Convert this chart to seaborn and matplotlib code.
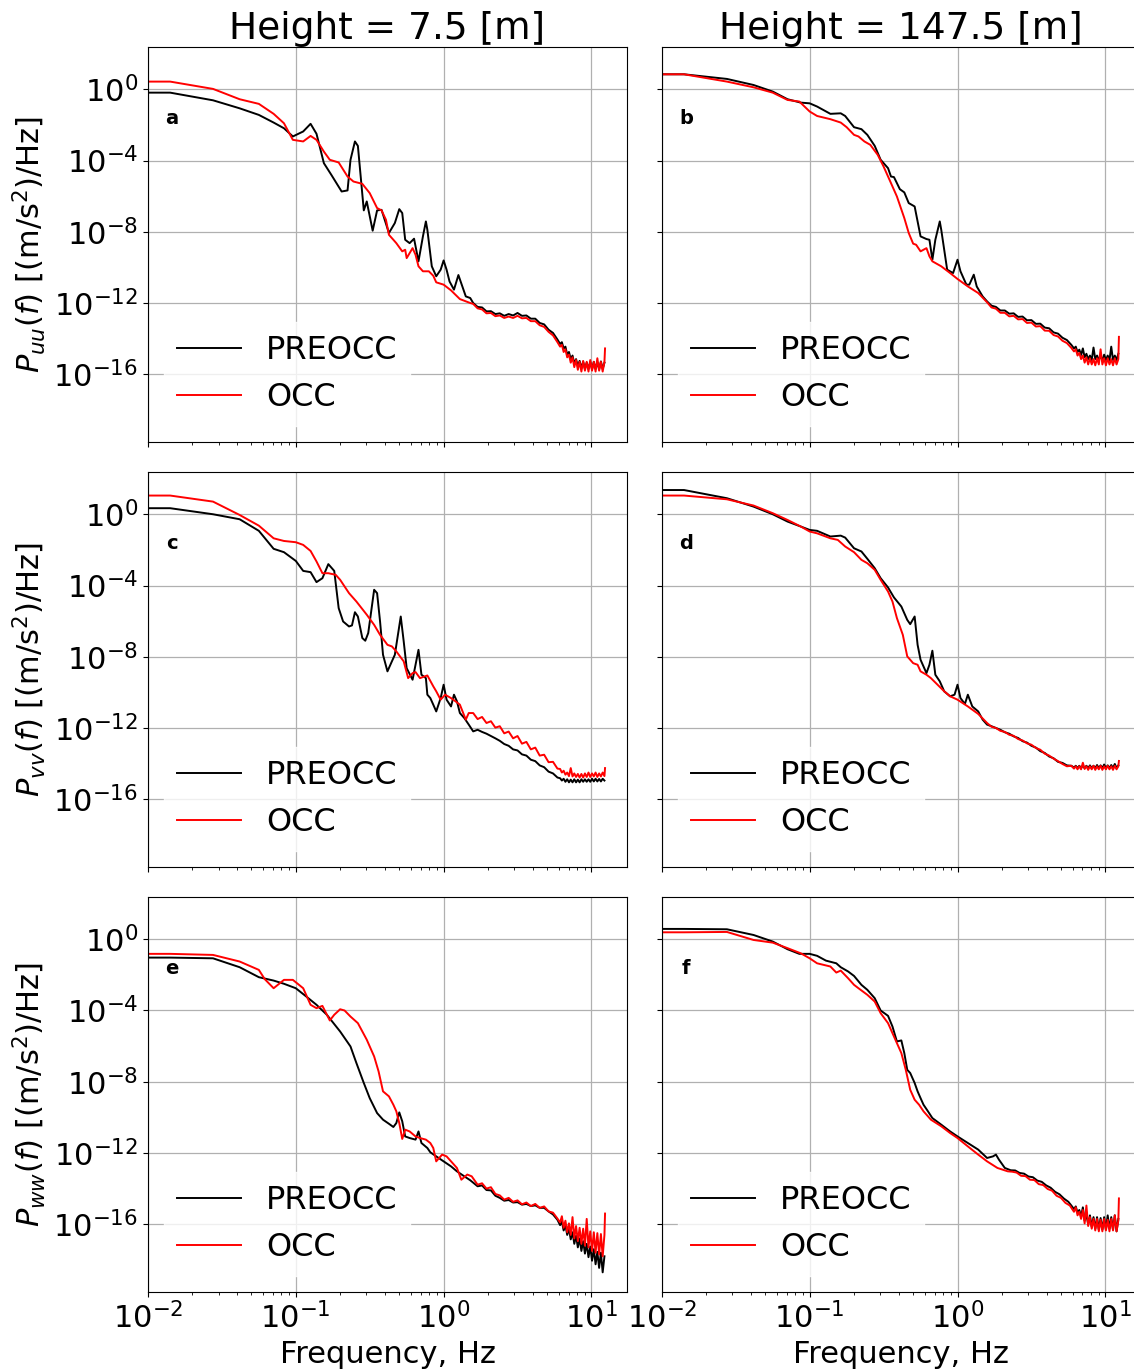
import pandas as pd
import matplotlib
matplotlib.use("Agg")
import matplotlib.pyplot as plt
import seaborn as sns
from matplotlib.ticker import NullLocator

# spectra, stored as (log10 frequency [Hz], log10 PSD)
a_pre = [(-2.00, -0.19), (-1.85, -0.19), (-1.56, -0.62), (-1.38, -1.07), (-1.25, -1.44), (-1.15, -1.87),
         (-1.08, -2.19), (-1.02, -2.65), (-0.95, -2.37), (-0.90, -1.94), (-0.86, -2.50), (-0.81, -4.15),
         (-0.76, -4.80), (-0.69, -5.74), (-0.65, -5.68), (-0.63, -3.96), (-0.60, -2.93), (-0.58, -3.18),
         (-0.54, -6.80), (-0.52, -6.30), (-0.48, -7.94), (-0.45, -6.80), (-0.42, -6.77), (-0.37, -8.07),
         (-0.33, -7.51), (-0.30, -6.73), (-0.28, -6.95), (-0.26, -8.45), (-0.23, -8.64), (-0.20, -8.39),
         (-0.17, -9.66), (-0.14, -8.26), (-0.12, -7.42), (-0.11, -7.89), (-0.08, -9.94), (-0.05, -10.50),
         (-0.02, -10.13), (0.00, -9.61), (0.02, -10.13), (0.04, -10.79), (0.07, -11.25), (0.10, -10.43),
         (0.15, -11.63), (0.18, -11.72), (0.20, -12.00), (0.23, -12.22), (0.26, -12.25), (0.29, -12.47),
         (0.32, -12.46), (0.35, -12.62), (0.38, -12.58), (0.41, -12.72), (0.44, -12.62), (0.47, -12.70),
         (0.50, -12.56), (0.53, -12.72), (0.56, -12.70), (0.59, -12.88), (0.62, -12.88), (0.65, -13.12),
         (0.68, -13.20), (0.71, -13.50), (0.74, -13.68), (0.77, -14.05), (0.788, -14.30), (0.80, -14.20),
         (0.812, -14.55), (0.824, -14.45), (0.836, -14.90), (0.848, -14.75), (0.86, -15.15), (0.872, -14.95),
         (0.884, -15.40), (0.896, -15.15), (0.908, -15.55), (0.92, -15.25), (0.932, -15.65), (0.944, -15.30),
         (0.956, -15.70), (0.968, -15.35), (0.98, -15.70), (0.992, -15.30), (1.004, -15.72), (1.016, -15.30),
         (1.028, -15.70), (1.04, -15.32), (1.052, -15.72), (1.064, -15.28), (1.076, -15.70), (1.088, -15.35)]
a_occ = [(-2.00, 0.43), (-1.85, 0.43), (-1.56, 0.02), (-1.38, -0.56), (-1.25, -0.82), (-1.15, -1.38),
         (-1.08, -1.91), (-1.02, -2.84), (-0.95, -2.93), (-0.90, -2.62), (-0.86, -2.84), (-0.81, -3.50),
         (-0.77, -3.96), (-0.71, -4.11), (-0.65, -4.90), (-0.61, -5.18), (-0.55, -5.31), (-0.50, -5.83),
         (-0.45, -6.67), (-0.42, -6.80), (-0.39, -7.33), (-0.37, -8.17), (-0.34, -8.45), (-0.32, -8.64),
         (-0.28, -9.10), (-0.26, -9.01), (-0.25, -9.48), (-0.21, -8.92), (-0.19, -9.29), (-0.17, -9.94),
         (-0.14, -10.22), (-0.10, -10.22), (-0.07, -10.47), (-0.05, -10.84), (0.00, -10.97), (0.05, -11.29),
         (0.11, -11.78), (0.18, -12.00), (0.20, -12.05), (0.23, -12.30), (0.26, -12.36), (0.29, -12.58),
         (0.32, -12.56), (0.35, -12.74), (0.38, -12.70), (0.41, -12.84), (0.44, -12.76), (0.47, -12.84),
         (0.50, -12.72), (0.53, -12.86), (0.56, -12.84), (0.59, -13.02), (0.62, -13.02), (0.65, -13.25),
         (0.68, -13.34), (0.71, -13.62), (0.74, -13.82), (0.77, -14.20), (0.788, -14.45), (0.80, -14.35),
         (0.812, -14.75), (0.824, -14.60), (0.836, -15.05), (0.848, -14.90), (0.86, -15.35), (0.872, -15.05),
         (0.884, -15.60), (0.896, -15.20), (0.908, -15.75), (0.92, -15.30), (0.932, -15.85), (0.944, -15.25),
         (0.956, -15.80), (0.968, -15.30), (0.98, -15.85), (0.992, -15.20), (1.004, -15.80), (1.016, -15.30),
         (1.028, -15.85), (1.04, -15.10), (1.052, -15.80), (1.064, -15.30), (1.076, -15.85), (1.088, -15.30),
         (1.092, -14.55)]

b_pre = [(-2.00, 0.84), (-1.85, 0.84), (-1.56, 0.58), (-1.38, 0.24), (-1.25, -0.13), (-1.15, -0.56),
         (-1.06, -0.75), (-1.00, -0.79), (-0.95, -0.97), (-0.86, -1.38), (-0.79, -1.35), (-0.76, -1.50),
         (-0.70, -2.13), (-0.65, -2.24), (-0.61, -2.56), (-0.56, -3.18), (-0.52, -3.96), (-0.47, -4.43),
         (-0.45, -4.90), (-0.43, -4.93), (-0.39, -5.61), (-0.36, -5.79), (-0.33, -6.39), (-0.29, -6.58),
         (-0.27, -7.42), (-0.25, -8.26), (-0.21, -8.41), (-0.19, -8.45), (-0.17, -9.57), (-0.15, -8.45),
         (-0.12, -7.42), (-0.11, -7.89), (-0.09, -9.01), (-0.07, -10.13), (-0.03, -10.32), (0.00, -9.57),
         (0.02, -10.22), (0.06, -10.97), (0.08, -10.97), (0.11, -10.41), (0.13, -11.07), (0.17, -11.63),
         (0.20, -11.91), (0.23, -12.15), (0.26, -12.22), (0.29, -12.42), (0.32, -12.42), (0.35, -12.60),
         (0.38, -12.58), (0.41, -12.78), (0.44, -12.76), (0.47, -12.97), (0.50, -12.96), (0.53, -13.17),
         (0.56, -13.16), (0.59, -13.38), (0.62, -13.42), (0.65, -13.65), (0.68, -13.72), (0.71, -13.95),
         (0.74, -14.08), (0.77, -14.35), (0.788, -14.55), (0.80, -14.45), (0.812, -14.75), (0.824, -14.62),
         (0.836, -14.92), (0.848, -14.55), (0.86, -15.05), (0.872, -14.85), (0.884, -15.15), (0.896, -14.95),
         (0.908, -15.20), (0.92, -14.50), (0.932, -15.15), (0.944, -14.95), (0.956, -15.20), (0.968, -14.95),
         (0.98, -15.22), (0.992, -14.90), (1.004, -15.20), (1.016, -14.95), (1.028, -15.22), (1.04, -14.45),
         (1.052, -15.20), (1.064, -14.95), (1.076, -15.20), (1.088, -14.85)]
b_occ = [(-2.00, 0.84), (-1.85, 0.84), (-1.56, 0.43), (-1.38, 0.11), (-1.25, -0.19), (-1.15, -0.60),
         (-1.07, -0.69), (-1.00, -1.25), (-0.95, -1.50), (-0.86, -1.68), (-0.79, -1.87), (-0.75, -2.13),
         (-0.70, -2.56), (-0.67, -2.65), (-0.63, -2.93), (-0.59, -3.12), (-0.54, -3.68), (-0.50, -4.34),
         (-0.45, -5.27), (-0.41, -6.02), (-0.36, -7.23), (-0.33, -8.07), (-0.30, -8.67), (-0.28, -8.73),
         (-0.25, -9.10), (-0.21, -8.92), (-0.19, -9.38), (-0.17, -9.66), (-0.11, -9.94), (-0.05, -10.32),
         (0.00, -10.65), (0.07, -11.07), (0.14, -11.44), (0.20, -11.96), (0.23, -12.25), (0.26, -12.32),
         (0.29, -12.55), (0.32, -12.55), (0.35, -12.75), (0.38, -12.72), (0.41, -12.92), (0.44, -12.90),
         (0.47, -13.12), (0.50, -13.10), (0.53, -13.32), (0.56, -13.30), (0.59, -13.55), (0.62, -13.56),
         (0.65, -13.80), (0.68, -13.88), (0.71, -14.12), (0.74, -14.25), (0.77, -14.52), (0.788, -14.72),
         (0.80, -14.60), (0.812, -14.95), (0.824, -14.80), (0.836, -15.15), (0.848, -14.95), (0.86, -15.35),
         (0.872, -15.05), (0.884, -15.45), (0.896, -15.10), (0.908, -15.45), (0.92, -15.15), (0.932, -15.50),
         (0.944, -15.10), (0.956, -15.45), (0.968, -14.60), (0.98, -15.45), (0.992, -15.10), (1.004, -15.50),
         (1.016, -15.10), (1.028, -15.45), (1.04, -15.15), (1.052, -15.50), (1.064, -15.10), (1.076, -15.45),
         (1.088, -15.15), (1.092, -13.90)]

c_pre = [(-2.00, 0.34), (-1.85, 0.34), (-1.56, 0.00), (-1.38, -0.28), (-1.25, -0.93), (-1.15, -1.94),
         (-1.08, -2.13), (-1.00, -2.62), (-0.95, -3.18), (-0.90, -3.25), (-0.86, -3.81), (-0.82, -3.59),
         (-0.78, -2.80), (-0.74, -3.18), (-0.71, -5.27), (-0.68, -6.02), (-0.64, -6.30), (-0.62, -6.24),
         (-0.60, -5.50), (-0.58, -5.74), (-0.55, -6.95), (-0.53, -7.10), (-0.51, -6.67), (-0.47, -4.24),
         (-0.45, -4.43), (-0.43, -6.02), (-0.41, -7.89), (-0.38, -8.82), (-0.35, -8.26), (-0.33, -7.89),
         (-0.29, -5.74), (-0.27, -7.14), (-0.25, -8.64), (-0.21, -9.29), (-0.19, -8.45), (-0.17, -7.61),
         (-0.15, -9.01), (-0.12, -9.20), (-0.11, -10.13), (-0.09, -10.32), (-0.07, -10.69), (-0.05, -11.07),
         (-0.02, -10.32), (0.00, -9.57), (0.02, -10.41), (0.05, -10.79), (0.07, -10.13), (0.09, -10.50),
         (0.11, -11.16), (0.14, -11.44), (0.17, -11.81), (0.20, -12.19), (0.23, -12.10), (0.26, -12.22),
         (0.29, -12.32), (0.32, -12.45), (0.35, -12.58), (0.38, -12.72), (0.41, -12.90), (0.44, -13.00),
         (0.47, -13.20), (0.50, -13.26), (0.53, -13.48), (0.56, -13.55), (0.59, -13.78), (0.62, -13.86),
         (0.65, -14.10), (0.68, -14.20), (0.71, -14.45), (0.74, -14.55), (0.77, -14.78), (0.788, -14.82),
         (0.80, -14.95), (0.812, -14.85), (0.824, -15.02), (0.836, -14.88), (0.848, -15.05), (0.86, -14.90),
         (0.872, -15.05), (0.884, -14.88), (0.896, -15.05), (0.908, -14.90), (0.92, -15.05), (0.932, -14.88),
         (0.944, -15.02), (0.956, -14.88), (0.968, -15.02), (0.98, -14.88), (0.992, -15.02), (1.004, -14.85),
         (1.016, -15.00), (1.028, -14.85), (1.04, -15.00), (1.052, -14.86), (1.064, -15.00), (1.076, -14.85),
         (1.088, -14.95)]
c_occ = [(-2.00, 1.05), (-1.85, 1.05), (-1.56, 0.71), (-1.38, -0.04), (-1.25, -0.64), (-1.15, -1.35),
         (-1.08, -1.50), (-1.00, -1.57), (-0.95, -1.72), (-0.90, -2.06), (-0.86, -2.65), (-0.82, -3.31),
         (-0.78, -3.31), (-0.73, -3.40), (-0.70, -3.68), (-0.64, -4.43), (-0.59, -4.90), (-0.52, -5.64),
         (-0.47, -6.21), (-0.43, -6.77), (-0.38, -7.33), (-0.35, -7.42), (-0.32, -7.70), (-0.27, -8.26),
         (-0.24, -9.20), (-0.21, -8.92), (-0.19, -8.86), (-0.16, -9.20), (-0.11, -9.05), (-0.07, -9.66),
         (-0.05, -9.94), (-0.02, -10.41), (0.01, -10.13), (0.05, -10.32), (0.08, -10.50), (0.11, -10.69),
         (0.15, -11.53), (0.17, -11.16), (0.20, -11.16), (0.23, -11.50), (0.26, -11.38), (0.29, -11.72),
         (0.32, -11.62), (0.35, -11.98), (0.38, -11.90), (0.41, -12.30), (0.44, -12.20), (0.47, -12.58),
         (0.50, -12.45), (0.53, -12.88), (0.56, -12.78), (0.59, -13.20), (0.62, -13.10), (0.65, -13.55),
         (0.68, -13.50), (0.71, -13.92), (0.74, -13.90), (0.77, -14.28), (0.788, -14.30), (0.80, -14.50),
         (0.812, -14.40), (0.824, -14.62), (0.836, -14.50), (0.848, -14.70), (0.86, -14.25), (0.872, -14.72),
         (0.884, -14.55), (0.896, -14.75), (0.908, -14.58), (0.92, -14.78), (0.932, -14.58), (0.944, -14.78),
         (0.956, -14.55), (0.968, -14.75), (0.98, -14.50), (0.992, -14.75), (1.004, -14.55), (1.016, -14.72),
         (1.028, -14.50), (1.04, -14.75), (1.052, -14.55), (1.064, -14.72), (1.076, -14.50), (1.088, -14.70),
         (1.092, -14.25)]

d_pre = [(-2.00, 1.36), (-1.85, 1.36), (-1.56, 0.90), (-1.38, 0.43), (-1.25, 0.00), (-1.15, -0.41),
         (-1.06, -0.69), (-1.00, -0.88), (-0.95, -0.93), (-0.86, -1.25), (-0.79, -1.20), (-0.76, -1.31),
         (-0.70, -1.91), (-0.65, -2.09), (-0.61, -2.50), (-0.56, -3.03), (-0.52, -3.59), (-0.47, -4.11),
         (-0.43, -4.67), (-0.38, -5.18), (-0.34, -5.93), (-0.32, -6.17), (-0.29, -5.74), (-0.27, -7.33),
         (-0.25, -8.17), (-0.21, -8.92), (-0.19, -8.45), (-0.17, -7.66), (-0.15, -9.01), (-0.12, -9.38),
         (-0.09, -9.94), (-0.05, -10.22), (-0.02, -10.13), (0.00, -9.57), (0.02, -10.32), (0.05, -10.65),
         (0.07, -10.13), (0.10, -10.79), (0.14, -11.07), (0.17, -11.53), (0.20, -11.81), (0.23, -11.90),
         (0.26, -12.00), (0.29, -12.10), (0.32, -12.24), (0.35, -12.32), (0.38, -12.47), (0.41, -12.56),
         (0.44, -12.74), (0.47, -12.82), (0.50, -13.00), (0.53, -13.10), (0.56, -13.30), (0.59, -13.40),
         (0.62, -13.60), (0.65, -13.70), (0.68, -13.90), (0.71, -13.96), (0.74, -14.10), (0.77, -14.12),
         (0.788, -14.22), (0.80, -14.12), (0.812, -14.25), (0.824, -14.12), (0.836, -14.25), (0.848, -14.10),
         (0.86, -14.26), (0.872, -14.12), (0.884, -14.25), (0.896, -14.10), (0.908, -14.25), (0.92, -14.12),
         (0.932, -14.26), (0.944, -14.08), (0.956, -14.25), (0.968, -14.10), (0.98, -14.25), (0.992, -14.05),
         (1.004, -14.25), (1.016, -14.10), (1.028, -14.25), (1.04, -14.08), (1.052, -14.24), (1.064, -14.02),
         (1.076, -14.24), (1.088, -14.10)]
d_occ = [(-2.00, 1.05), (-1.85, 1.05), (-1.56, 0.84), (-1.38, 0.49), (-1.25, 0.06), (-1.15, -0.32),
         (-1.06, -0.69), (-1.00, -0.97), (-0.95, -1.07), (-0.86, -1.35), (-0.81, -1.44), (-0.76, -1.81),
         (-0.70, -2.13), (-0.65, -2.56), (-0.61, -2.75), (-0.56, -3.12), (-0.52, -3.68), (-0.47, -4.34),
         (-0.44, -4.90), (-0.41, -5.83), (-0.37, -6.77), (-0.34, -7.98), (-0.30, -8.36), (-0.27, -8.45),
         (-0.25, -8.82), (-0.21, -9.01), (-0.18, -9.20), (-0.14, -9.53), (-0.09, -9.94), (-0.05, -10.22),
         (0.00, -10.41), (0.07, -10.79), (0.14, -11.21), (0.20, -11.72), (0.23, -11.93), (0.26, -12.00),
         (0.29, -12.16), (0.32, -12.22), (0.35, -12.38), (0.38, -12.44), (0.41, -12.62), (0.44, -12.70),
         (0.47, -12.86), (0.50, -12.94), (0.53, -13.12), (0.56, -13.22), (0.59, -13.44), (0.62, -13.55),
         (0.65, -13.72), (0.68, -13.86), (0.71, -14.02), (0.74, -14.15), (0.77, -14.12), (0.788, -14.28),
         (0.80, -14.15), (0.812, -14.32), (0.824, -14.15), (0.836, -14.32), (0.848, -13.95), (0.86, -14.30),
         (0.872, -14.15), (0.884, -14.35), (0.896, -14.15), (0.908, -14.32), (0.92, -14.12), (0.932, -14.35),
         (0.944, -14.15), (0.956, -14.32), (0.968, -14.12), (0.98, -14.35), (0.992, -14.15), (1.004, -14.32),
         (1.016, -14.12), (1.028, -14.32), (1.04, -14.15), (1.052, -14.35), (1.064, -14.12), (1.076, -14.32),
         (1.088, -14.15), (1.092, -13.85)]

e_pre = [(-2.00, -1.03), (-1.85, -1.03), (-1.56, -1.07), (-1.38, -1.57), (-1.25, -2.13), (-1.15, -2.32),
         (-1.08, -2.50), (-1.00, -2.75), (-0.93, -3.21), (-0.86, -3.68), (-0.79, -4.24), (-0.70, -5.18),
         (-0.63, -6.02), (-0.59, -6.95), (-0.54, -8.07), (-0.50, -8.92), (-0.45, -9.76), (-0.41, -10.13),
         (-0.37, -10.36), (-0.34, -10.54), (-0.32, -10.32), (-0.30, -9.72), (-0.28, -10.22), (-0.26, -11.07),
         (-0.23, -11.16), (-0.19, -11.25), (-0.17, -10.79), (-0.15, -11.44), (-0.11, -11.72), (-0.09, -11.96),
         (-0.05, -12.19), (0.00, -12.47), (0.05, -12.75), (0.09, -13.03), (0.14, -13.31), (0.18, -13.53),
         (0.23, -13.87), (0.26, -13.82), (0.29, -14.08), (0.32, -14.10), (0.35, -14.40), (0.38, -14.52),
         (0.41, -14.68), (0.44, -14.64), (0.47, -14.78), (0.50, -14.76), (0.53, -14.90), (0.56, -14.86),
         (0.59, -14.98), (0.62, -14.94), (0.65, -15.08), (0.68, -15.08), (0.71, -15.28), (0.74, -15.45),
         (0.77, -15.75), (0.788, -16.05), (0.80, -15.85), (0.812, -16.35), (0.824, -16.05), (0.836, -16.60),
         (0.848, -16.25), (0.86, -16.85), (0.872, -16.45), (0.884, -17.10), (0.896, -16.65), (0.908, -17.30),
         (0.92, -16.80), (0.932, -17.50), (0.944, -16.95), (0.956, -17.65), (0.968, -17.10), (0.98, -17.85),
         (0.992, -17.25), (1.004, -18.05), (1.016, -17.40), (1.028, -18.25), (1.04, -17.55), (1.052, -18.45),
         (1.064, -17.60), (1.076, -18.70), (1.088, -17.80)]
e_occ = [(-2.00, -0.82), (-1.85, -0.82), (-1.56, -0.88), (-1.38, -1.25), (-1.25, -1.72), (-1.21, -2.24),
         (-1.15, -2.75), (-1.08, -2.28), (-1.02, -2.28), (-0.95, -2.75), (-0.90, -3.68), (-0.86, -3.87),
         (-0.82, -3.74), (-0.77, -4.56), (-0.74, -4.24), (-0.70, -3.93), (-0.67, -4.00), (-0.63, -4.34),
         (-0.58, -4.71), (-0.52, -5.64), (-0.47, -6.58), (-0.44, -7.42), (-0.41, -8.54), (-0.37, -8.82),
         (-0.34, -9.29), (-0.32, -9.66), (-0.30, -10.32), (-0.28, -11.21), (-0.26, -10.69), (-0.23, -10.79),
         (-0.19, -11.07), (-0.16, -11.16), (-0.12, -11.25), (-0.09, -11.44), (-0.07, -11.72), (-0.05, -12.47),
         (-0.01, -12.09), (0.02, -12.19), (0.06, -12.56), (0.09, -12.84), (0.12, -13.50), (0.16, -13.21),
         (0.19, -13.31), (0.23, -13.78), (0.26, -13.70), (0.29, -14.00), (0.32, -13.92), (0.35, -14.30),
         (0.38, -14.38), (0.41, -14.62), (0.44, -14.52), (0.47, -14.74), (0.50, -14.66), (0.53, -14.88),
         (0.56, -14.78), (0.59, -14.98), (0.62, -14.86), (0.65, -15.08), (0.68, -15.00), (0.71, -15.28),
         (0.74, -15.35), (0.77, -15.68), (0.788, -15.90), (0.80, -15.55), (0.812, -16.20), (0.824, -15.80),
         (0.836, -16.45), (0.848, -15.95), (0.86, -16.60), (0.872, -15.60), (0.884, -16.80), (0.896, -16.10),
         (0.908, -16.95), (0.92, -16.20), (0.932, -17.10), (0.944, -16.25), (0.956, -17.20), (0.968, -15.70),
         (0.98, -17.30), (0.992, -16.40), (1.004, -17.50), (1.016, -16.45), (1.028, -17.60), (1.04, -16.50),
         (1.052, -17.70), (1.064, -16.55), (1.076, -17.80), (1.088, -16.60), (1.092, -15.40)]

f_pre = [(-2.00, 0.58), (-1.85, 0.58), (-1.56, 0.56), (-1.38, 0.24), (-1.25, -0.13), (-1.15, -0.56),
         (-1.07, -0.82), (-1.00, -0.82), (-0.95, -0.93), (-0.89, -1.20), (-0.82, -1.35), (-0.79, -1.57),
         (-0.74, -1.81), (-0.70, -2.06), (-0.65, -2.56), (-0.61, -2.84), (-0.56, -3.31), (-0.52, -4.00),
         (-0.47, -4.30), (-0.44, -4.90), (-0.41, -5.74), (-0.38, -5.68), (-0.36, -6.39), (-0.34, -7.33),
         (-0.32, -7.51), (-0.29, -8.07), (-0.27, -8.54), (-0.25, -8.92), (-0.23, -9.29), (-0.20, -9.66),
         (-0.17, -10.04), (-0.11, -10.41), (-0.05, -10.79), (0.00, -11.07), (0.07, -11.44), (0.14, -11.81),
         (0.20, -12.28), (0.24, -12.19), (0.26, -12.09), (0.28, -12.37), (0.32, -12.84), (0.36, -12.97),
         (0.39, -12.98), (0.42, -13.12), (0.45, -13.16), (0.48, -13.32), (0.51, -13.36), (0.54, -13.55),
         (0.57, -13.62), (0.60, -13.82), (0.63, -13.95), (0.66, -14.18), (0.69, -14.32), (0.72, -14.56),
         (0.75, -14.74), (0.77, -14.95), (0.788, -15.15), (0.80, -15.00), (0.812, -15.35), (0.824, -15.20),
         (0.836, -15.55), (0.848, -15.05), (0.86, -15.80), (0.872, -15.45), (0.884, -16.00), (0.896, -15.50),
         (0.908, -16.15), (0.92, -15.60), (0.932, -16.25), (0.944, -15.60), (0.956, -16.30), (0.968, -15.65),
         (0.98, -16.30), (0.992, -15.60), (1.004, -16.30), (1.016, -15.50), (1.028, -16.25), (1.04, -15.60),
         (1.052, -16.30), (1.064, -15.50), (1.076, -16.40), (1.088, -15.70)]
f_occ = [(-2.00, 0.39), (-1.85, 0.39), (-1.56, 0.41), (-1.38, -0.04), (-1.25, -0.19), (-1.15, -0.50),
         (-1.06, -0.79), (-1.00, -1.07), (-0.95, -1.35), (-0.86, -1.53), (-0.82, -1.87), (-0.79, -1.76),
         (-0.74, -2.19), (-0.70, -2.56), (-0.67, -2.75), (-0.61, -3.12), (-0.56, -3.50), (-0.52, -4.15),
         (-0.47, -4.71), (-0.43, -5.46), (-0.38, -6.39), (-0.35, -7.33), (-0.32, -8.45), (-0.29, -9.01),
         (-0.26, -9.29), (-0.23, -9.66), (-0.18, -10.13), (-0.11, -10.50), (-0.05, -10.88), (0.00, -11.16),
         (0.07, -11.63), (0.14, -12.09), (0.20, -12.47), (0.27, -12.84), (0.34, -13.03), (0.37, -13.05),
         (0.40, -13.10), (0.43, -13.28), (0.46, -13.30), (0.49, -13.50), (0.52, -13.52), (0.55, -13.75),
         (0.58, -13.80), (0.61, -14.02), (0.64, -14.12), (0.67, -14.40), (0.70, -14.52), (0.73, -14.80),
         (0.76, -14.95), (0.788, -15.30), (0.80, -15.05), (0.812, -15.50), (0.824, -15.30), (0.836, -15.70),
         (0.848, -15.20), (0.86, -15.95), (0.872, -14.95), (0.884, -16.10), (0.896, -15.60), (0.908, -16.25),
         (0.92, -15.70), (0.932, -16.35), (0.944, -15.70), (0.956, -16.40), (0.968, -15.75), (0.98, -16.40),
         (0.992, -15.70), (1.004, -16.35), (1.016, -15.75), (1.028, -16.40), (1.04, -15.70), (1.052, -16.35),
         (1.064, -15.50), (1.076, -16.40), (1.088, -15.80), (1.092, -14.55)]

cases = ["PREOCC", "OCC"]
heights = ["Height = 7.5 [m]", "Height = 147.5 [m]"]
components = ["uu", "vv", "ww"]
panel_letters = ["a", "b", "c", "d", "e", "f"]
panel_series = [(a_pre, a_occ), (b_pre, b_occ), (c_pre, c_occ),
                (d_pre, d_occ), (e_pre, e_occ), (f_pre, f_occ)]


def to_frame(pre, occ):
    rows = []
    for case, series in zip(cases, (pre, occ)):
        for lf, lp in series:
            rows.append({"freq": 10 ** lf, "psd": 10 ** lp, "case": case})
    return pd.DataFrame(rows)


fig, axes = plt.subplots(3, 2, figsize=(11.34, 13.69), dpi=100, sharex=True, sharey=True)
fig.subplots_adjust(left=0.1305, right=1.006, bottom=0.0563, top=0.9657,
                    wspace=0.073, hspace=0.076)

for i, ax in enumerate(axes.flat):
    row, col = divmod(i, 2)
    df = to_frame(*panel_series[i])
    sns.lineplot(data=df, x="freq", y="psd", hue="case", hue_order=cases,
                 palette={"PREOCC": "black", "OCC": "red"},
                 estimator=None, sort=False, linewidth=1.4, ax=ax)
    ax.set_xscale("log")
    ax.set_yscale("log")
    ax.set_xlim(1e-2, 10 ** 1.24)
    ax.set_ylim(10 ** -19.8, 10 ** 2.375)
    ax.set_yticks([1e0, 1e-4, 1e-8, 1e-12, 1e-16])
    ax.yaxis.set_minor_locator(NullLocator())
    ax.grid(True, which="major", color="#b0b0b0", linewidth=0.9)
    ax.tick_params(axis="both", which="major", labelsize=22)
    sns.move_legend(ax, "lower left", title=None, fontsize=23, edgecolor="white")
    ax.text(0.05, 0.818, panel_letters[i], transform=ax.transAxes,
            fontsize=14, fontweight="bold", ha="center", va="center")

    ax.set_xlabel("Frequency, Hz" if row == 2 else "", fontsize=22)
    if col == 0:
        ax.set_ylabel(rf"$P_{{{components[row]}}}(f)$ [(m/s$^2$)/Hz]", fontsize=22)
    else:
        ax.set_ylabel("")
    if row == 0:
        ax.set_title(heights[col], fontsize=27)

fig.savefig("out.png", dpi=100)
